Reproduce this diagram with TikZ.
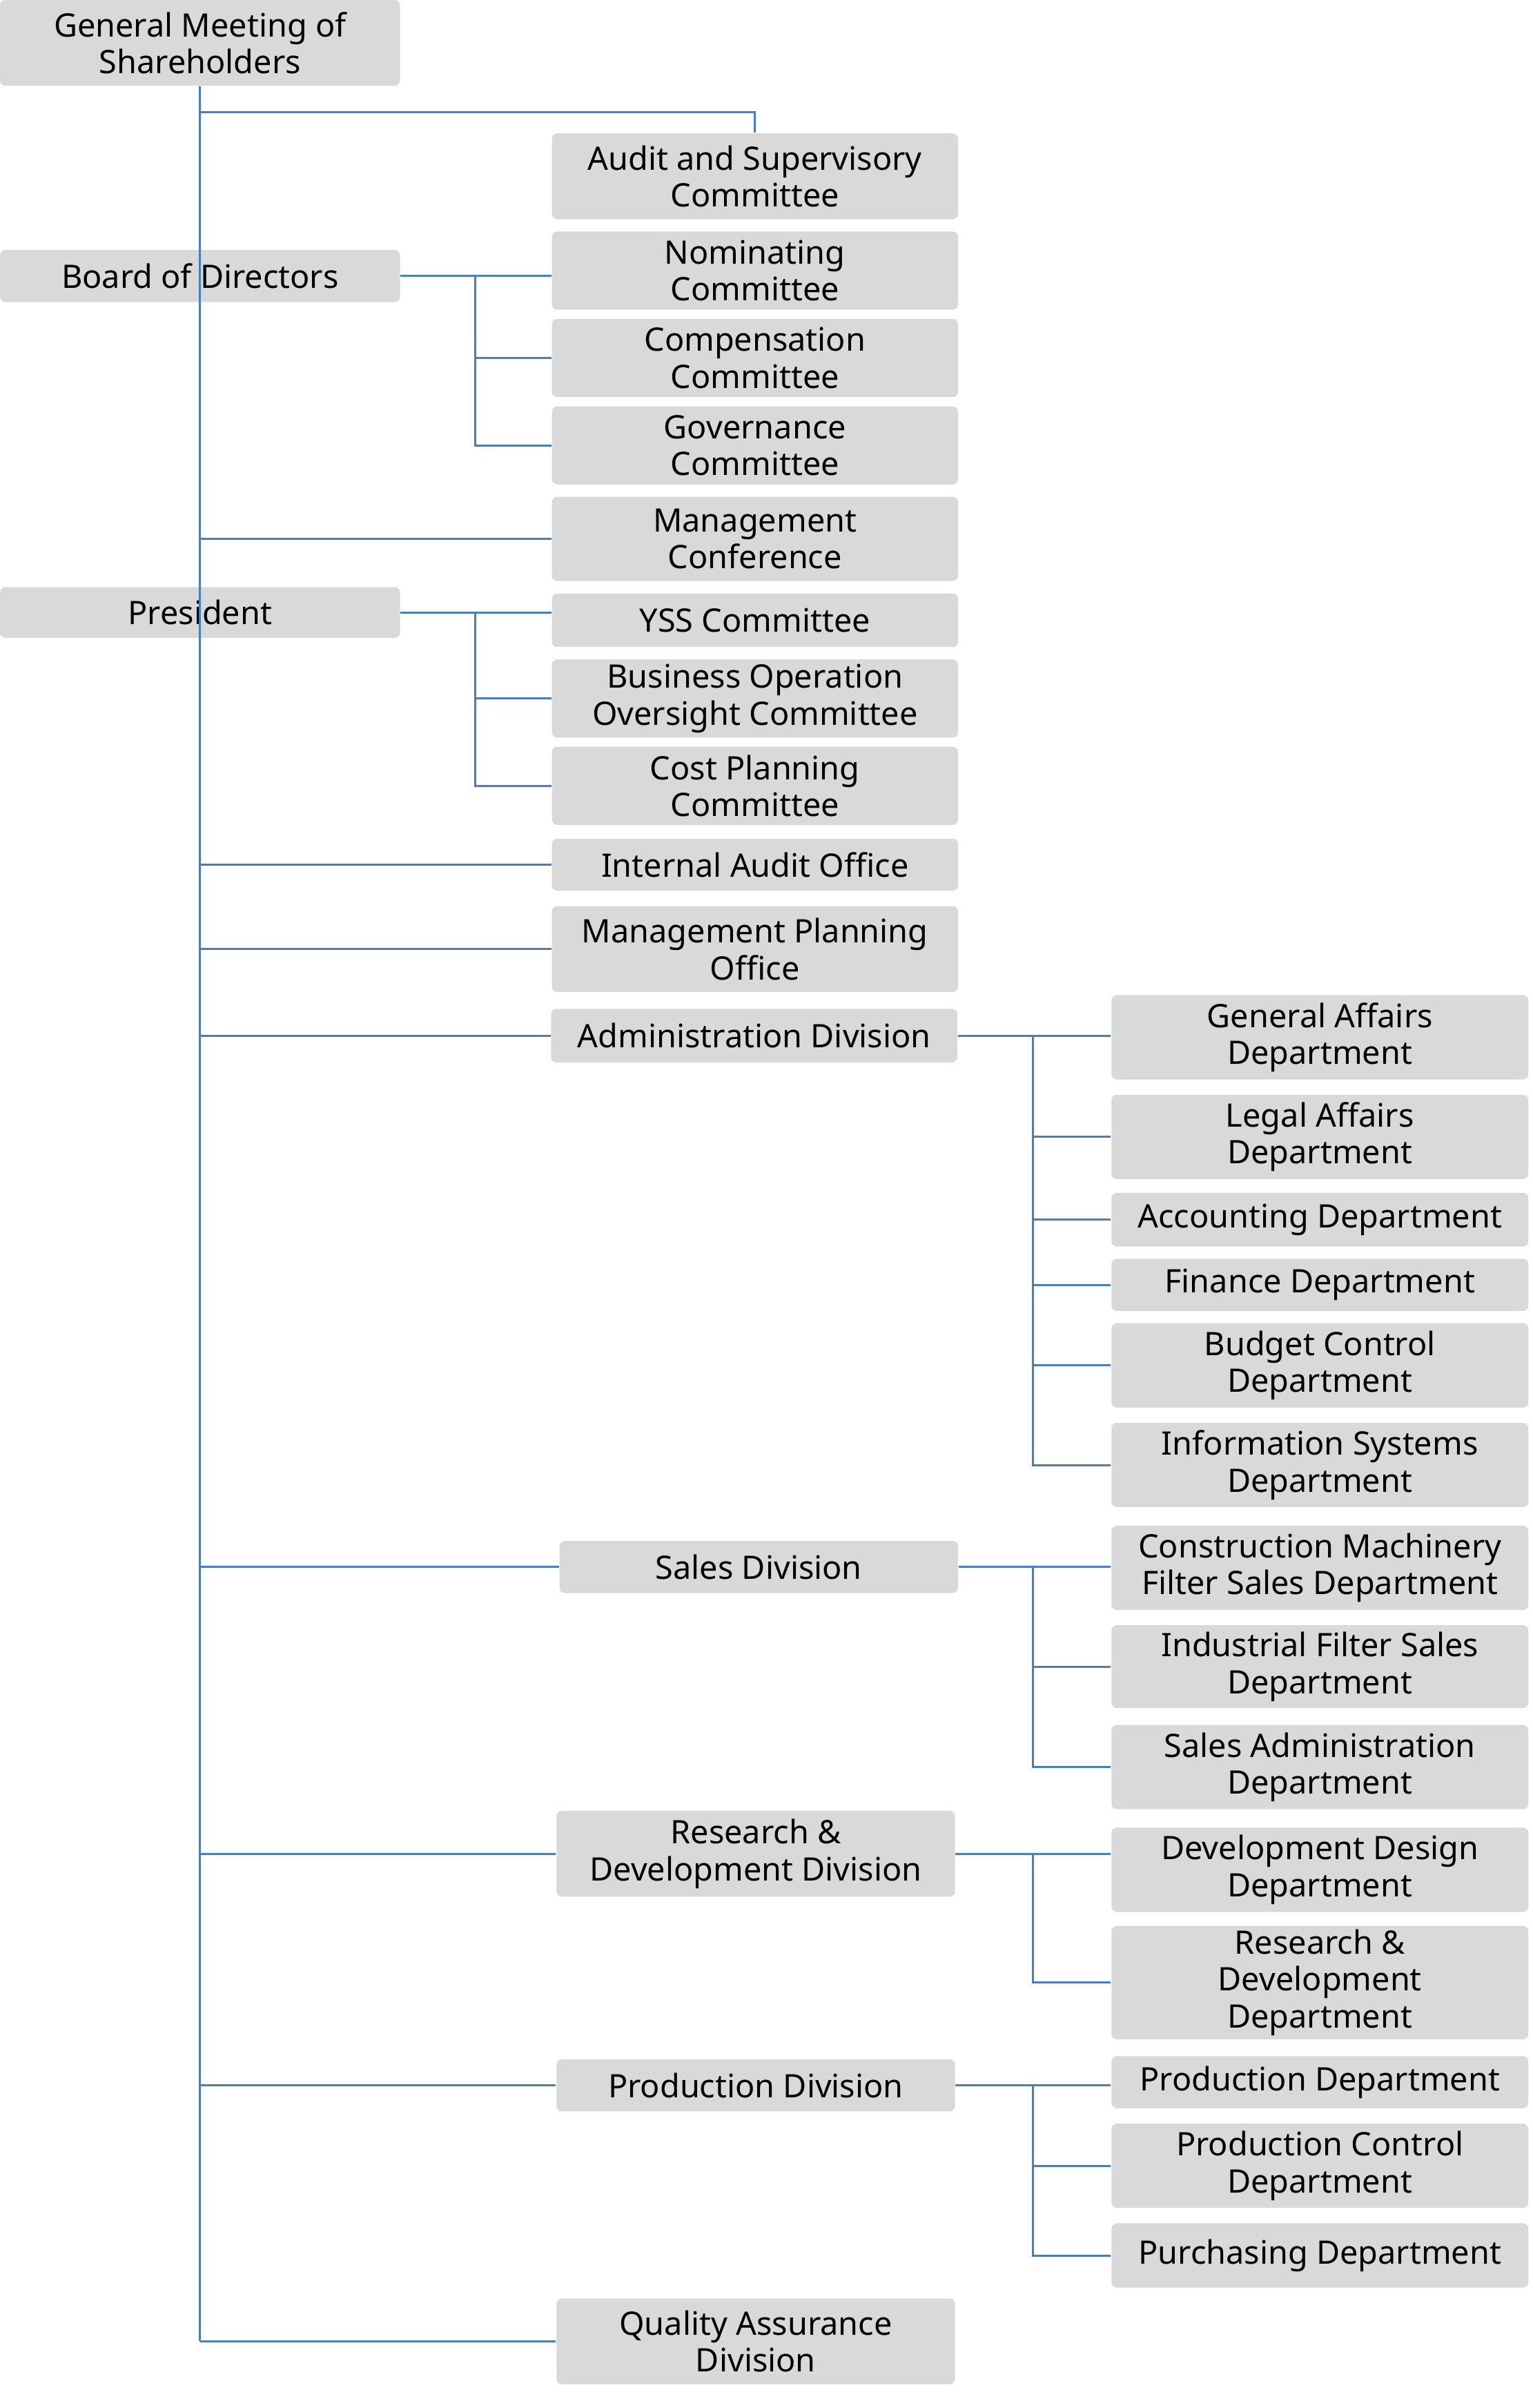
\documentclass[tikz,border=0pt]{standalone}
\usepackage{fontspec}
\setmainfont{Noto Sans}
\usepackage{tikz}
\usepackage{color}
\definecolor{linkblue}{HTML}{4A7EBB}
\definecolor{boxgray}{HTML}{D9D9D9}

\begin{document}
\begin{tikzpicture}[x=0.02cm,y=-0.02cm,
  box/.style={fill=boxgray,rounded corners=2pt,align=center,inner sep=0pt,
    font=\fontsize{12}{13.7}\selectfont},
  left/.style={box,minimum width=5.22cm},
  mid/.style={box,minimum width=5.3cm},
  dept/.style={box,minimum width=5.44cm},
  link/.style={draw=linkblue,line width=0.75pt}]
 \useasboundingbox (0,0) rectangle (1000,1570.5);
 % left column
 \node[left,minimum height=1.12cm] (gms) at (130.5,28) {General Meeting of\\Shareholders};
 \node[left,minimum height=0.68cm] (bod) at (130.5,180) {Board of Directors};
 \node[left,minimum height=0.66cm] (pres) at (130.5,399.5) {President};
 % committees and offices
 \node[mid,minimum height=1.12cm] (asc) at (492.5,115) {Audit and Supervisory\\Committee};
 \node[mid,minimum height=1.02cm] (nom) at (492.5,176.5) {Nominating\\Committee};
 \node[mid,minimum height=1.02cm] (comp) at (492.5,233.5) {Compensation\\Committee};
 \node[mid,minimum height=1.02cm] (gov) at (492.5,290.5) {Governance\\Committee};
 \node[mid,minimum height=1.1cm] (mc) at (492.5,351.5) {Management\\Conference};
 \node[mid,minimum height=0.7cm] (yss) at (492.5,404.5) {YSS Committee};
 \node[mid,minimum height=1.02cm] (boo) at (492.5,455.5) {Business Operation\\Oversight Committee};
 \node[mid,minimum height=1.02cm] (cpc) at (492.5,512.5) {Cost Planning\\Committee};
 \node[mid,minimum height=0.68cm] (iao) at (492.5,564) {Internal Audit Office};
 \node[mid,minimum height=1.12cm] (mpo) at (492.5,619) {Management Planning\\Office};
 % divisions
 \node[mid,minimum height=0.7cm] (adm) at (492,675.5) {Administration Division};
 \node[box,minimum width=5.2cm,minimum height=0.68cm] (sales) at (495,1022) {Sales Division};
 \node[box,minimum width=5.2cm,minimum height=1.12cm] (rdd) at (493,1209) {Research \&\\Development Division};
 \node[box,minimum width=5.2cm,minimum height=0.68cm] (prod) at (493,1360) {Production Division};
 \node[box,minimum width=5.2cm,minimum height=1.12cm] (qa) at (493,1527) {Quality Assurance\\Division};
 % departments
 \node[dept,minimum height=1.1cm] (ga) at (861,676.5) {General Affairs\\Department};
 \node[dept,minimum height=1.1cm] (la) at (861,741.5) {Legal Affairs\\Department};
 \node[dept,minimum height=0.7cm] (acc) at (861,795.5) {Accounting Department};
 \node[dept,minimum height=0.68cm] (fin) at (861,838) {Finance Department};
 \node[dept,minimum height=1.1cm] (bc) at (861,890.5) {Budget Control\\Department};
 \node[dept,minimum height=1.1cm] (isd) at (861,955.5) {Information Systems\\Department};
 \node[dept,minimum height=1.1cm] (cm) at (861,1022.5) {Construction Machinery\\Filter Sales Department};
 \node[dept,minimum height=1.08cm] (ifs) at (861,1087) {Industrial Filter Sales\\Department};
 \node[dept,minimum height=1.1cm] (sad) at (861,1152.5) {Sales Administration\\Department};
 \node[dept,minimum height=1.1cm] (ddd) at (861,1219.5) {Development Design\\Department};
 \node[dept,minimum height=1.48cm] (rdp) at (861,1293) {Research \&\\Development\\Department};
 \node[dept,minimum height=0.68cm] (pd) at (861,1358) {Production Department};
 \node[dept,minimum height=1.1cm] (pcd) at (861,1412.5) {Production Control\\Department};
 \node[dept,minimum height=0.84cm] (pur) at (861,1471) {Purchasing Department};
 % bracket columns
 \coordinate (top) at (131,73);
 \coordinate (bx) at (310,0);
 \coordinate (dx) at (674,0);
 % trunk
 \draw[link] (gms.south) -- (gms.south |- qa.west);
 \draw[link] (gms.south |- top) -| (asc.north);
 \draw[link] (gms.south |- mc.west) -- (mc.west);
 \draw[link] (gms.south |- iao.west) -- (iao.west);
 \draw[link] (gms.south |- mpo.west) -- (mpo.west);
 \draw[link] (gms.south |- adm.west) -- (adm.west);
 \draw[link] (gms.south |- sales.west) -- (sales.west);
 \draw[link] (gms.south |- rdd.west) -- (rdd.west);
 \draw[link] (gms.south |- prod.west) -- (prod.west);
 \draw[link] (gms.south |- qa.west) -- (qa.west);
 % board committees
 \draw[link] (bod.east) -- (nom.west |- bod.east);
 \draw[link] (bx |- bod.east) |- (comp.west);
 \draw[link] (bx |- bod.east) |- (gov.west);
 % president committees
 \draw[link] (pres.east) -- (yss.west |- pres.east);
 \draw[link] (bx |- pres.east) |- (boo.west);
 \draw[link] (bx |- pres.east) |- (cpc.west);
 % administration
 \draw[link] (adm.east) -- (ga.west |- adm.east);
 \foreach \d in {la,acc,fin,bc,isd}
  \draw[link] (dx |- adm.east) |- (\d.west);
 % sales
 \draw[link] (sales.east) -- (cm.west |- sales.east);
 \foreach \d in {ifs,sad}
  \draw[link] (dx |- sales.east) |- (\d.west);
 % research and development
 \draw[link] (rdd.east) -- (ddd.west |- rdd.east);
 \draw[link] (dx |- rdd.east) |- (rdp.west);
 % production
 \draw[link] (prod.east) -- (pd.west |- prod.east);
 \foreach \d in {pcd,pur}
  \draw[link] (dx |- prod.east) |- (\d.west);
\end{tikzpicture}
\end{document}
